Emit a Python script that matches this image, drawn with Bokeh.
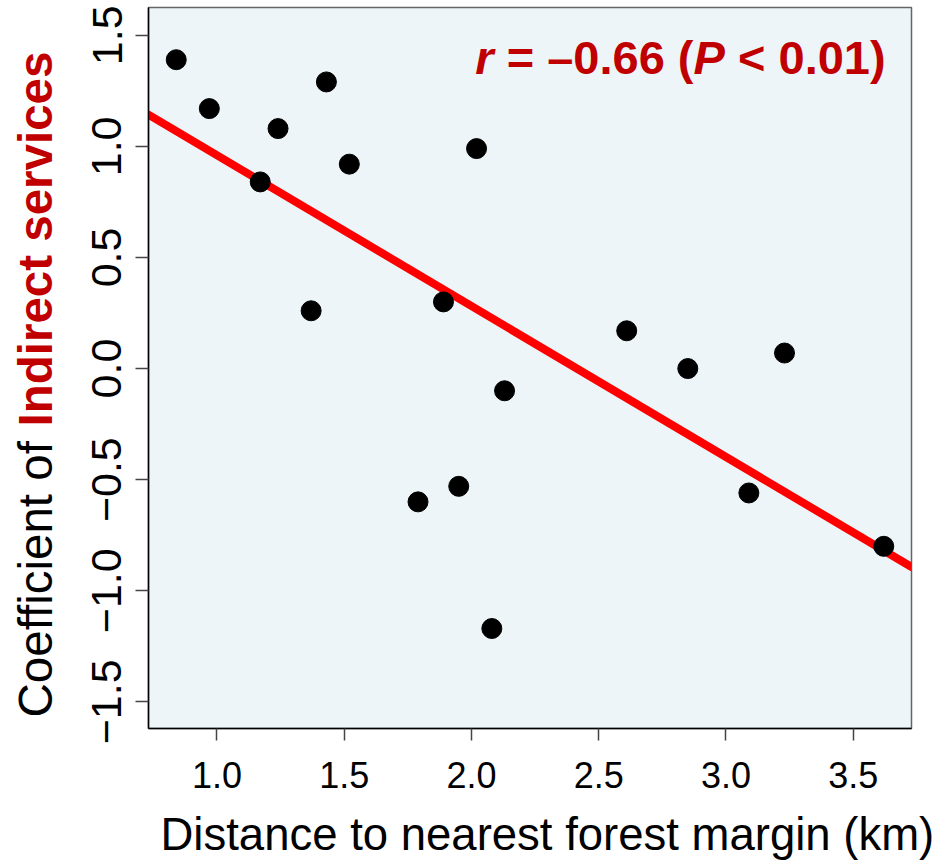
from bokeh.plotting import figure
from bokeh.models import Range1d, FixedTicker, Label
from bokeh.layouts import row, column
from bokeh.embed import file_html
from bokeh.resources import INLINE
import math

# ---- data ----
distance_km = [0.84, 0.97, 1.17, 1.24, 1.43, 1.37, 1.52, 1.79, 1.89,
               1.95, 2.02, 2.08, 2.13, 2.61, 2.85, 3.09, 3.23, 3.62]
coefficient = [1.39, 1.17, 0.84, 1.08, 1.29, 0.26, 0.92, -0.60, 0.30,
               -0.53, 0.99, -1.17, -0.10, 0.17, 0.00, -0.56, 0.07, -0.80]
fit_x = [0.731, 3.729]
fit_y = [1.143, -0.893]

x_ticks = [1.0, 1.5, 2.0, 2.5, 3.0, 3.5]
x_tick_labels = ["1.0", "1.5", "2.0", "2.5", "3.0", "3.5"]
y_ticks = [-1.5, -1.0, -0.5, 0.0, 0.5, 1.0, 1.5]
y_tick_labels = ["\u22121.5", "\u22121.0", "\u22120.5", "0.0", "0.5", "1.0", "1.5"]

x_title = "Distance to nearest forest margin (km)"
y_title_plain = "Coefficient of "
y_title_bold = "Indirect services"
annotation_pieces = ["r", "= \u20130.66 (", "P", "< 0.01)"]
annotation_styles = ["bold italic", "bold", "bold italic", "bold"]

X_RANGE = (0.731, 3.729)
Y_RANGE = (-1.62, 1.625)

FONT = "Liberation Sans"
DARK_RED = "#C00000"
BG = "#EDF5F8"

# ---------------- main plot ----------------
p = figure(width=877, height=805, output_backend="svg", toolbar_location=None,
           x_range=Range1d(*X_RANGE), y_range=Range1d(*Y_RANGE),
           min_border_left=88, min_border_right=26, min_border_top=7,
           min_border_bottom=77)
p.border_fill_color = "white"
p.background_fill_color = BG
p.outline_line_color = "#666666"
p.outline_line_width = 1.5
p.xgrid.visible = False
p.ygrid.visible = False

p.line(fit_x, fit_y, line_color="#FF0000", line_width=8, line_cap="round")
p.scatter(distance_km, coefficient, size=20, fill_color="black", line_color="black")

xa = p.xaxis[0]
xa.ticker = FixedTicker(ticks=x_ticks)
xa.major_label_overrides = {t: l for t, l in zip(x_ticks, x_tick_labels)}
xa.minor_tick_line_color = None
xa.major_tick_in = 0
xa.major_tick_out = 12
xa.major_tick_line_color = "#444444"
xa.major_tick_line_width = 1.5
xa.axis_line_color = "black"
xa.axis_line_width = 1.5
xa.major_label_text_font = FONT
xa.major_label_text_font_size = "36px"
xa.major_label_text_color = "black"
xa.major_label_standoff = 21

ya = p.yaxis[0]
ya.ticker = FixedTicker(ticks=y_ticks)
ya.major_label_overrides = {t: l for t, l in zip(y_ticks, y_tick_labels)}
ya.minor_tick_line_color = None
ya.major_tick_in = 0
ya.major_tick_out = 13
ya.major_tick_line_color = "#444444"
ya.major_tick_line_width = 1.5
ya.axis_line_color = "black"
ya.axis_line_width = 1.5
ya.major_label_text_font = FONT
ya.major_label_text_font_size = "43px"
ya.major_label_text_color = "black"
ya.major_label_orientation = "parallel"
ya.major_label_standoff = 14

# correlation annotation: r = –0.66 (P < 0.01)
ANN_X, ANN_Y = 2.015, 1.398
ann_offsets = [0.0, 31.4, 218.3, 262.7]
for txt, style, off in zip(annotation_pieces, annotation_styles, ann_offsets):
    p.add_layout(Label(x=ANN_X, y=ANN_Y, x_offset=off, text=txt,
                       text_align="left", text_baseline="middle",
                       text_font=FONT, text_font_size="47px",
                       text_font_style=style, text_color=DARK_RED))

# ---------------- y title strip (frame aligned with main plot: 7..728) ----------------
yt = figure(width=60, height=805, output_backend="svg", toolbar_location=None,
            x_range=Range1d(0, 60), y_range=Range1d(133, 854),
            x_axis_type=None, y_axis_type=None, min_border=0)
yt.outline_line_color = None
yt.background_fill_color = "white"
yt.border_fill_color = "white"
yt.add_layout(Label(x=34.5, y=144, text=y_title_plain, angle=math.pi / 2,
                    text_align="left", text_baseline="middle",
                    text_font=FONT, text_font_size="47.5px", text_color="black"))
yt.add_layout(Label(x=34.5, y=435, text=y_title_bold, angle=math.pi / 2,
                    text_align="left", text_baseline="middle",
                    text_font=FONT, text_font_size="47.5px", text_font_style="bold",
                    text_color=DARK_RED))

# ---------------- x title strip ----------------
xt = figure(width=937, height=56, output_backend="svg", toolbar_location=None,
            x_range=Range1d(0, 937), y_range=Range1d(0, 56),
            x_axis_type=None, y_axis_type=None, min_border=0)
xt.outline_line_color = None
xt.background_fill_color = "white"
xt.border_fill_color = "white"
xt.add_layout(Label(x=160, y=26.6, text=x_title, text_align="left",
                    text_baseline="middle", text_font=FONT,
                    text_font_size="45.5px", text_color="black"))

layout = column(row(yt, p), xt)
open("out.html", "w").write(file_html(layout, INLINE))
